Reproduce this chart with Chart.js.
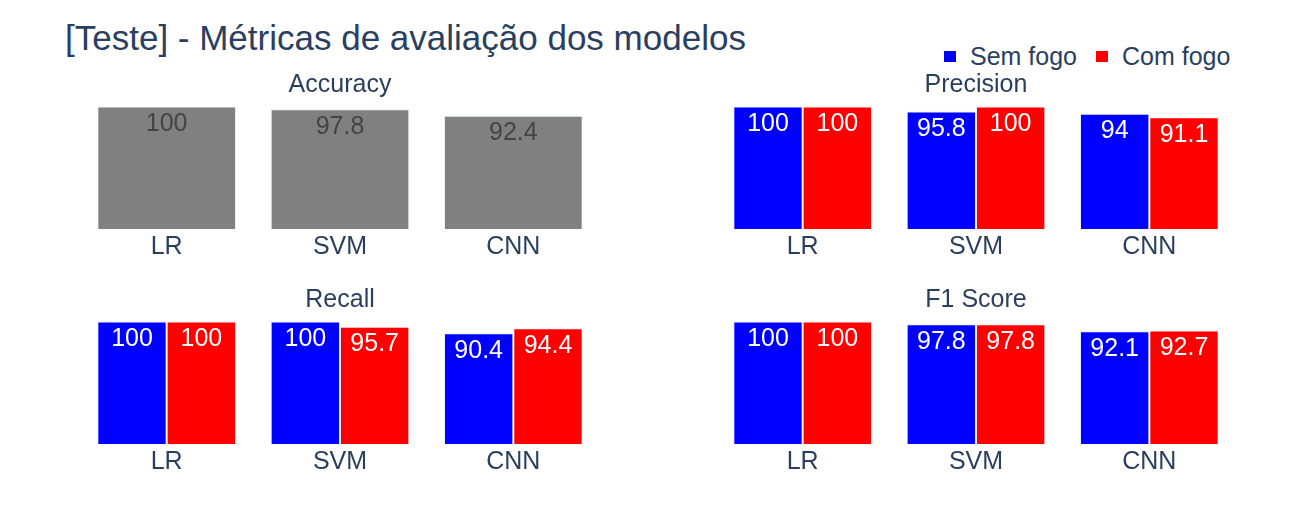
<!DOCTYPE html>
<html>
<head>
<meta charset="utf-8">
<script src="https://cdn.jsdelivr.net/npm/chart.js@4.4.1/dist/chart.umd.min.js"></script>
<style>
  html, body { margin: 0; padding: 0; background: #ffffff; }
  body { width: 1316px; height: 525px; position: relative; overflow: hidden; font-family: "Liberation Sans", Arial, sans-serif; color: #2a3f5f; }
  .box { position: absolute; }
  #mainTitle { position: absolute; left: 65px; top: 20px; font-size: 35px; line-height: 35px; white-space: nowrap; }
  .legItem { position: absolute; top: 44px; font-size: 25px; line-height: 25px; white-space: nowrap; }
  .legSwatch { position: absolute; width: 12px; height: 11px; top: 51px; }
</style>
</head>
<body>
<div id="mainTitle"></div>
<div id="legend"></div>
<div class="box" style="left:80px; top:69px; width:520px; height:196px;"><canvas id="c1"></canvas></div>
<div class="box" style="left:716px; top:69px; width:520px; height:196px;"><canvas id="c2"></canvas></div>
<div class="box" style="left:80px; top:284px; width:520px; height:196px;"><canvas id="c3"></canvas></div>
<div class="box" style="left:716px; top:284px; width:520px; height:196px;"><canvas id="c4"></canvas></div>
<script>
// ---- data ----
const mainTitle = "[Teste] - Métricas de avaliação dos modelos";
const categories = ["LR", "SVM", "CNN"];
const seriesNames = ["Sem fogo", "Com fogo"];
const subplotTitles = ["Accuracy", "Precision", "Recall", "F1 Score"];
const accuracy = [100, 97.8, 92.4];
const precisionSem = [100, 95.8, 94];
const precisionCom = [100, 100, 91.1];
const recallSem = [100, 100, 90.4];
const recallCom = [100, 95.7, 94.4];
const f1Sem = [100, 97.8, 92.1];
const f1Com = [100, 97.8, 92.7];

// ---- styles ----
const TEXT = "#2a3f5f";
const FONT = "'Liberation Sans', Arial, sans-serif";
const colGray = "#808080", colBlue = "#0000ff", colRed = "#ff0000";
const edge = "rgba(229,236,246,0.85)";

Chart.defaults.font.family = FONT;
Chart.defaults.color = TEXT;

document.getElementById("mainTitle").textContent = mainTitle;
const leg = document.getElementById("legend");
const legPos = [{sw: 944, tx: 970, c: colBlue}, {sw: 1096, tx: 1122, c: colRed}];
seriesNames.forEach((n, i) => {
  const s = document.createElement("div");
  s.className = "legSwatch"; s.style.left = legPos[i].sw + "px"; s.style.background = legPos[i].c;
  leg.appendChild(s);
  const t = document.createElement("div");
  t.className = "legItem"; t.style.left = legPos[i].tx + "px"; t.textContent = n;
  leg.appendChild(t);
});

const barLabels = {
  id: "barLabels",
  afterDatasetsDraw(chart) {
    const ctx = chart.ctx;
    ctx.save();
    ctx.font = "25px " + FONT;
    ctx.textAlign = "center";
    ctx.textBaseline = "alphabetic";
    chart.data.datasets.forEach((ds, di) => {
      const meta = chart.getDatasetMeta(di);
      meta.data.forEach((el, i) => {
        ctx.fillStyle = ds.labelColor;
        ctx.fillText(String(ds.data[i]), el.x, el.y + 24.5);
      });
    });
    ctx.restore();
  }
};

function makeChart(id, title, datasets) {
  new Chart(document.getElementById(id), {
    type: "bar",
    data: { labels: categories, datasets: datasets },
    plugins: [barLabels],
    options: {
      responsive: true,
      maintainAspectRatio: false,
      animation: false,
      layout: { padding: 0 },
      plugins: {
        legend: { display: false },
        tooltip: { enabled: false },
        title: {
          display: true, text: title, color: TEXT,
          font: { size: 25, weight: "normal", family: FONT, lineHeight: 1.2 },
          padding: { top: 1, bottom: 0 }
        }
      },
      scales: {
        x: {
          grid: { display: false, drawTicks: false },
          border: { display: false },
          ticks: { color: TEXT, font: { size: 25, family: FONT, lineHeight: 1.2 }, padding: 3 }
        },
        y: { display: false, min: 0, max: 105.26 }
      }
    }
  });
}

function ds(values, color, label, labelColor) {
  return {
    label: label, data: values, backgroundColor: color,
    borderColor: edge, borderWidth: 1,
    categoryPercentage: 0.8, barPercentage: 1.0,
    labelColor: labelColor
  };
}

makeChart("c1", subplotTitles[0], [ds(accuracy, colGray, "Accuracy", "#444444")]);
makeChart("c2", subplotTitles[1], [ds(precisionSem, colBlue, seriesNames[0], "#ffffff"), ds(precisionCom, colRed, seriesNames[1], "#ffffff")]);
makeChart("c3", subplotTitles[2], [ds(recallSem, colBlue, seriesNames[0], "#ffffff"), ds(recallCom, colRed, seriesNames[1], "#ffffff")]);
makeChart("c4", subplotTitles[3], [ds(f1Sem, colBlue, seriesNames[0], "#ffffff"), ds(f1Com, colRed, seriesNames[1], "#ffffff")]);
</script>
</body>
</html>
